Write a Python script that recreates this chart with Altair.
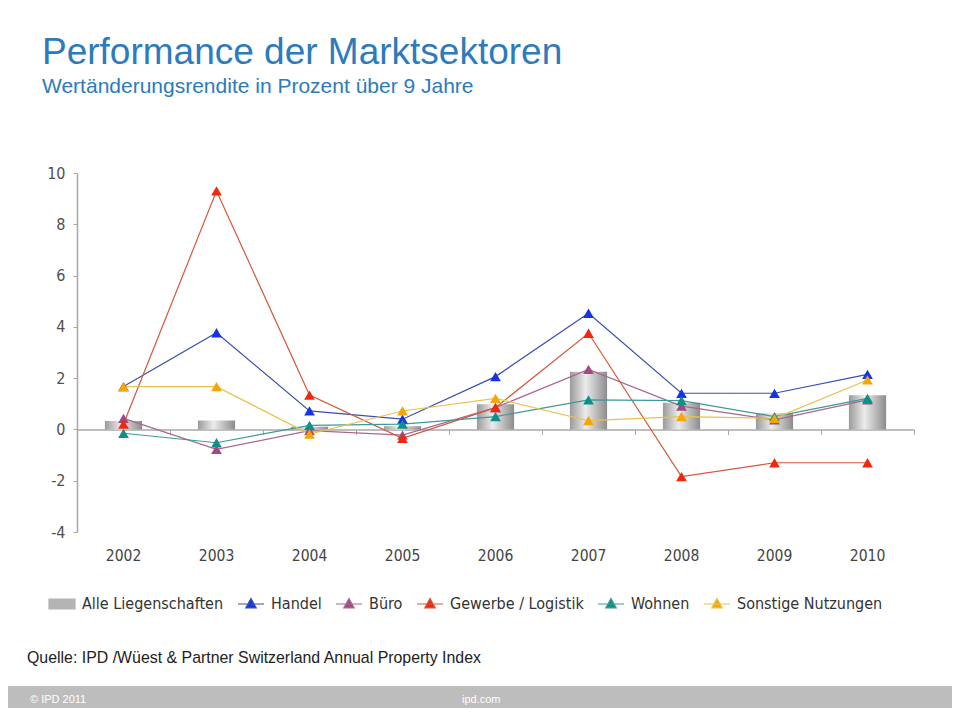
import altair as alt
import pandas as pd

years = ["2002", "2003", "2004", "2005", "2006", "2007", "2008", "2009", "2010"]
alle = [0.33, 0.35, 0.10, 0.12, 0.98, 2.25, 1.04, 0.63, 1.33]
handel = [1.67, 3.77, 0.72, 0.40, 2.06, 4.53, 1.41, 1.41, 2.15]
buero = [0.43, -0.78, -0.05, -0.22, 0.85, 2.34, 0.91, 0.37, 1.15]
gewerbe = [0.21, 9.30, 1.34, -0.35, 0.85, 3.75, -1.84, -1.30, -1.30]
wohnen = [-0.15, -0.52, 0.16, 0.21, 0.50, 1.15, 1.12, 0.50, 1.21]
sonstige = [1.67, 1.67, -0.18, 0.72, 1.21, 0.34, 0.50, 0.43, 1.93]

series_names = ["Alle Liegenschaften", "Handel", "Büro", "Gewerbe / Logistik", "Wohnen", "Sonstige Nutzungen"]
marker_colors = ["#b4b4b4", "#1434e6", "#a04a80", "#f0280c", "#0e9088", "#f5a600"]
line_colors = ["#b4b4b4", "#3a4fae", "#a8688f", "#d4583a", "#3d9a96", "#e9c24e"]
y_ticks = [-4, -2, 0, 2, 4, 6, 8, 10]

title_text = "Performance der Marktsektoren"
subtitle_text = "Wertänderungsrendite in Prozent über 9 Jahre"
source_text = "Quelle: IPD /Wüest & Partner Switzerland Annual Property Index"
footer_left = "© IPD 2011"
footer_mid = "ipd.com"

AX_FONT = "DejaVu Sans Condensed"
TXT_FONT = "Liberation Sans"

bars_df = pd.DataFrame({"year": years, "value": alle})
rows = []
for name, vals in zip(series_names[1:], [handel, buero, gewerbe, wohnen, sonstige]):
    for yr, v in zip(years, vals):
        rows.append({"year": yr, "value": v, "series": name})
lines_df = pd.DataFrame(rows)

x_scale = alt.Scale(type="band", domain=years, paddingInner=0, paddingOuter=0)
y_scale = alt.Scale(domain=[-4, 10], nice=False, zero=False)
y_axis = alt.Axis(values=y_ticks, title=None, grid=False, tickSize=4, tickColor="#a8a8a8",
                  domainColor="#a8a8a8", domainWidth=1.5, labelFont=AX_FONT, labelFontSize=16,
                  labelColor="#505050", labelPadding=8, labelExpr="'' + datum.value")

gradient = alt.Gradient(gradient="linear", x1=0, x2=1, y1=0, y2=0,
                        stops=[alt.GradientStop(offset=0, color="#9a9a9a"),
                               alt.GradientStop(offset=0.42, color="#ececec"),
                               alt.GradientStop(offset=1, color="#8c8c8c")])

fill_scale = alt.Scale(domain=series_names, range=marker_colors)
stroke_scale = alt.Scale(domain=series_names, range=line_colors)

rect_path = "M-1,-0.38H1V0.38H-1Z"
linetri_path = "M-1,0H1M0,-0.42L0.4,0.3L-0.4,0.3Z"
legend_shapes = [rect_path] + [linetri_path] * 5
shape_scale = alt.Scale(domain=series_names, range=legend_shapes)

legend = alt.Legend(
    orient="none", legendX=-29, legendY=417, direction="horizontal", columns=6, title=None,
    symbolSize=676, labelFont=AX_FONT, labelFontSize=16, labelColor="#333333", labelOffset=6,
    columnPadding=11, padding=0, symbolStrokeWidth=1.2, symbolOpacity=1,
)

bars = alt.Chart(bars_df).mark_bar(color=gradient, width=alt.RelativeBandSize(0.4)).encode(
    x=alt.X("year:N", scale=x_scale,
            axis=alt.Axis(orient="bottom", offset=-102.5, labels=False, tickBand="extent", tickSize=5,
                          tickColor="#a8a8a8", domainColor="#a8a8a8", domainWidth=1.5, title=None, grid=False)),
    y=alt.Y("value:Q", scale=y_scale, axis=y_axis),
)

legend_layer = alt.Chart(lines_df).transform_filter("false").mark_point(filled=True, opacity=1).encode(
    x=alt.X("year:N", scale=x_scale, axis=None),
    y=alt.Y("value:Q", scale=y_scale, axis=y_axis),
    fill=alt.Fill("series:N", scale=fill_scale, legend=legend),
    stroke=alt.Stroke("series:N", scale=stroke_scale, legend=legend),
    shape=alt.Shape("series:N", scale=shape_scale, legend=legend),
)

lines = alt.Chart(lines_df).mark_line(strokeWidth=1.2).encode(
    x=alt.X("year:N", scale=x_scale, axis=None),
    y=alt.Y("value:Q", scale=y_scale, axis=y_axis),
    stroke=alt.Stroke("series:N", scale=stroke_scale, legend=legend),
    detail="series:N",
)

points = alt.Chart(lines_df).mark_point(shape="triangle-up", filled=True, size=115, opacity=1).encode(
    x=alt.X("year:N", scale=x_scale,
            axis=alt.Axis(orient="bottom", domain=False, ticks=False, labelPadding=16, labelFont=AX_FONT,
                          labelFontSize=15.5, labelColor="#444444", title=None, labelAngle=0, grid=False)),
    y=alt.Y("value:Q", scale=y_scale, axis=y_axis),
    color=alt.Color("series:N", scale=alt.Scale(domain=series_names, range=marker_colors), legend=None),
)


def text_layer(txt, x, y, size, color, font):
    return alt.Chart(pd.DataFrame({"t": [txt]})).mark_text(
        align="left", baseline="alphabetic", fontSize=size, font=font, color=color
    ).encode(text="t:N", x=alt.value(x), y=alt.value(y))


footer = alt.Chart(pd.DataFrame({"a": [0]})).mark_rect(color="#bdbdbd").encode(
    x=alt.value(-69), x2=alt.value(875), y=alt.value(513), y2=alt.value(535))

chart = alt.layer(
    footer,
    bars,
    legend_layer,
    lines,
    points,
    text_layer(title_text, -35, -109, 37, "#2b7bbd", TXT_FONT),
    text_layer(subtitle_text, -35, -80, 21, "#2b7bbd", TXT_FONT),
    text_layer(source_text, -50, 490, 15.9, "#222222", TXT_FONT),
    text_layer(footer_left, -47, 530, 11, "#ffffff", TXT_FONT),
    text_layer(footer_mid, 385, 530, 11, "#ffffff", TXT_FONT),
).resolve_axis(x="independent").properties(
    width=837, height=359,
    autosize=alt.AutoSizeParams(type="none"),
    padding={"left": 69, "top": 165, "right": 38, "bottom": 176},
    background="white",
).configure_view(stroke=None)

chart.save("out.html", embed_options={"renderer": "svg", "actions": False})
